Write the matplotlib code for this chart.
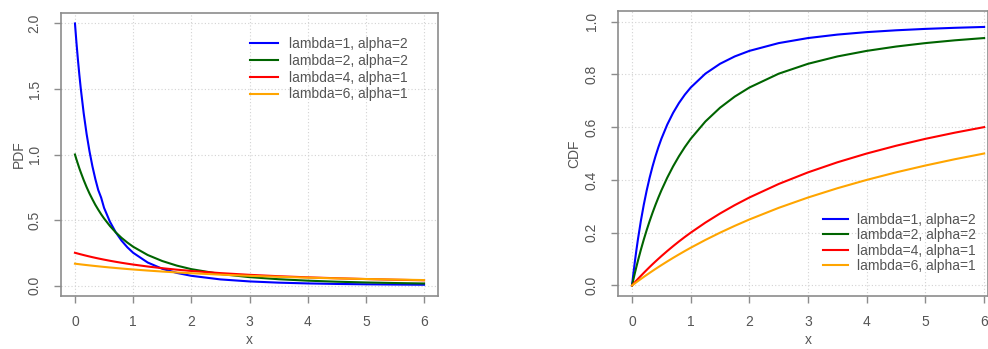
import matplotlib
matplotlib.use("Agg")
import matplotlib.pyplot as plt

plt.rcParams['font.family'] = ['Liberation Sans', 'DejaVu Sans']

# x positions at which the curves were read
x = [0, 0.025, 0.05, 0.075, 0.1, 0.15, 0.2, 0.25, 0.3, 0.35, 0.4, 0.45, 0.5,
     0.6, 0.7, 0.8, 0.9, 1.0, 1.25, 1.5, 1.75, 2.0, 2.5, 3.0, 3.5, 4.0, 4.5,
     5.0, 5.5, 6.0]

labels = ["lambda=1, alpha=2", "lambda=2, alpha=2",
          "lambda=4, alpha=1", "lambda=6, alpha=1"]
colors = ["blue", "darkgreen", "red", "orange"]

pdf_l1a2 = [2.0, 1.857, 1.728, 1.610, 1.503, 1.315, 1.157, 1.024, 0.910, 0.813,
            0.729, 0.671, 0.593, 0.488, 0.407, 0.343, 0.292, 0.250, 0.1756,
            0.128, 0.0962, 0.0741, 0.0466, 0.0313, 0.0219, 0.016, 0.012, 0.0093,
            0.0073, 0.0058]
pdf_l2a2 = [1.0, 0.963, 0.929, 0.895, 0.864, 0.805, 0.751, 0.702, 0.658, 0.616,
            0.579, 0.544, 0.512, 0.455, 0.406, 0.364, 0.328, 0.296, 0.233, 0.187,
            0.152, 0.125, 0.0878, 0.064, 0.0481, 0.037, 0.0291, 0.0233, 0.019,
            0.0156]
pdf_l4a1 = [0.25, 0.2469, 0.2439, 0.2409, 0.238, 0.2323, 0.2268, 0.2215, 0.2163,
            0.2114, 0.2066, 0.202, 0.1975, 0.189, 0.1811, 0.1736, 0.1666, 0.16,
            0.1451, 0.1322, 0.121, 0.1111, 0.0947, 0.0816, 0.0711, 0.0625,
            0.0554, 0.0494, 0.0443, 0.04]
pdf_l6a1 = [0.1667, 0.1653, 0.1639, 0.1626, 0.1612, 0.1586, 0.1561, 0.1536,
            0.1512, 0.1488, 0.1465, 0.1442, 0.142, 0.1377, 0.1337, 0.1298, 0.126,
            0.1224, 0.1142, 0.1067, 0.0999, 0.0938, 0.083, 0.0741, 0.0665, 0.06,
            0.0544, 0.0496, 0.0454, 0.0417]

cdf_l1a2 = [0.0, 0.0482, 0.093, 0.1347, 0.1736, 0.2439, 0.3056, 0.36, 0.4083,
            0.4513, 0.4898, 0.5244, 0.5556, 0.6094, 0.654, 0.6914, 0.723, 0.75,
            0.8025, 0.84, 0.8678, 0.8889, 0.9184, 0.9375, 0.9506, 0.96, 0.9669,
            0.9722, 0.9763, 0.9796]
cdf_l2a2 = [0.0, 0.0245, 0.0482, 0.071, 0.093, 0.1347, 0.1736, 0.2099, 0.2439,
            0.2757, 0.3056, 0.3336, 0.36, 0.4083, 0.4513, 0.4898, 0.5244, 0.5556,
            0.6213, 0.6735, 0.7156, 0.75, 0.8025, 0.84, 0.8678, 0.8889, 0.9053,
            0.9184, 0.9289, 0.9375]
cdf_l4a1 = [0.0, 0.0062, 0.0123, 0.0184, 0.0244, 0.0361, 0.0476, 0.0588, 0.0698,
            0.0805, 0.0909, 0.1011, 0.1111, 0.1304, 0.1489, 0.1667, 0.1837, 0.2,
            0.2381, 0.2727, 0.3043, 0.3333, 0.3846, 0.4286, 0.4667, 0.5, 0.5294,
            0.5556, 0.5789, 0.6]
cdf_l6a1 = [0.0, 0.0041, 0.0083, 0.0123, 0.0164, 0.0244, 0.0323, 0.04, 0.0476,
            0.0551, 0.0625, 0.0698, 0.0769, 0.0909, 0.1045, 0.1176, 0.1304,
            0.1429, 0.1724, 0.2, 0.2258, 0.25, 0.2941, 0.3333, 0.3684, 0.4,
            0.4286, 0.4545, 0.4783, 0.5]

xticks = [0, 1, 2, 3, 4, 5, 6]
pdf_yticks = [0.0, 0.5, 1.0, 1.5, 2.0]
cdf_yticks = [0.0, 0.2, 0.4, 0.6, 0.8, 1.0]

W, H = 988, 349
fig = plt.figure(figsize=(W / 100, H / 100), dpi=100)

def px_axes(l, t, r, b):
    return fig.add_axes([l / W, 1 - b / H, (r - l) / W, (b - t) / H])

ax1 = px_axes(61, 13, 438, 296)
ax2 = px_axes(618, 11, 988, 296)

txt_col = '#555555'
box_col = '#8c8c8c'

def style(ax, yticks, fmt):
    ax.set_xticks(xticks)
    ax.set_xticklabels([str(t) for t in xticks])
    ax.set_yticks(yticks)
    ax.set_yticklabels([fmt.format(t) for t in yticks], rotation=90, va='center')
    ax.grid(True, color='#d3d3d3', linestyle=(0, (1, 2)), linewidth=0.8)
    ax.set_axisbelow(True)
    for s in ax.spines.values():
        s.set_color(box_col)
        s.set_linewidth(1.2)
    ax.tick_params(axis='both', colors=box_col, labelcolor=txt_col,
                   labelsize=10, length=5, width=1, pad=9)

style(ax1, pdf_yticks, "{:.1f}")
style(ax2, cdf_yticks, "{:.1f}")

pdfs = [pdf_l1a2, pdf_l2a2, pdf_l4a1, pdf_l6a1]
cdfs = [cdf_l1a2, cdf_l2a2, cdf_l4a1, cdf_l6a1]

for ys, c, lab in zip(pdfs, colors, labels):
    ax1.plot(x, ys, color=c, lw=1.5, label=lab, solid_joinstyle='round')
for ys, c, lab in zip(cdfs, colors, labels):
    ax2.plot(x, ys, color=c, lw=1.5, label=lab, solid_joinstyle='round')

ax1.set_xlim(-0.24, 6.24)
ax1.set_ylim(-0.08, 2.08)
ax2.set_xlim(-0.239, 6.066)
ax2.set_ylim(-0.04, 1.04)

ax1.set_xlabel('x', color=txt_col, fontsize=10, va='top')
ax1.xaxis.set_label_coords(0.5, -0.13)
ax1.set_ylabel('PDF', color=txt_col, fontsize=10, va='center')
ax1.yaxis.set_label_coords(-0.111, 0.5)

ax2.set_xlabel('x', color=txt_col, fontsize=10, va='top')
ax2.xaxis.set_label_coords((632 + 3 * 58.67 - 618) / 370, -0.13)
ax2.set_ylabel('CDF', color=txt_col, fontsize=10, va='center')
ax2.yaxis.set_label_coords(-0.117, 0.5)

leg1 = ax1.legend(loc='upper left', bbox_to_anchor=(0.501, 0.915), frameon=False,
                  fontsize=10, handlelength=2.0, handletextpad=0.85,
                  labelspacing=0.2, borderpad=0, borderaxespad=0)
leg2 = ax2.legend(loc='upper left', bbox_to_anchor=(0.553, 0.292), frameon=False,
                  fontsize=10, handlelength=1.8, handletextpad=0.7,
                  labelspacing=0.1, borderpad=0, borderaxespad=0)
for leg in (leg1, leg2):
    for t in leg.get_texts():
        t.set_color(txt_col)

fig.savefig('out.png', dpi=100)
